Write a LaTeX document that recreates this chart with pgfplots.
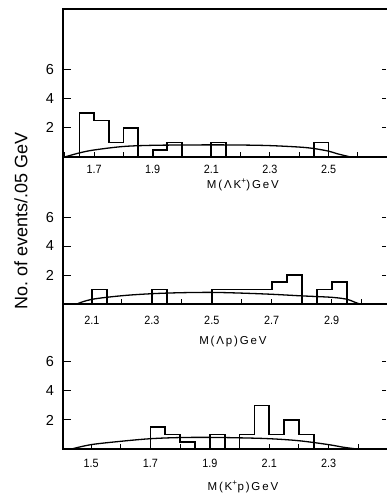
\documentclass[border=0pt]{standalone}
\usepackage{fontspec}
\setmainfont{Liberation Sans}
\newfontfamily\tickfont[FakeStretch=0.9]{Liberation Sans}
\newfontfamily\labfont[LetterSpace=16]{Liberation Sans}
\usepackage{pgfplots}
\pgfplotsset{compat=1.18}

% shared look of the three mass-spectrum panels
\pgfplotsset{
  panel/.style={
    scale only axis, width=323pt,
    ymin=0, clip=false,
    axis line style={draw=none},
    tick align=inside,
    xtick pos=bottom, ytick pos=left,
    major tick length=8pt, minor tick length=5pt,
    every tick/.style={black, line width=1pt},
    every major x tick/.append style={draw=none},
    ytick={2,4,6}, yticklabels={2,4,6},
    yticklabel style={font=\fontsize{14.5}{14.5}\selectfont, anchor=center, xshift=-13pt},
    xticklabel style={font=\tickfont\fontsize{12}{12}\selectfont, anchor=center},
    xlabel style={font=\labfont\fontsize{11.5}{11.5}\selectfont, anchor=center},
  },
  hist/.style={const plot, black, line width=1.7pt, line join=miter, mark=none},
  fit/.style={smooth, black, line width=1.3pt, tension=0.55, mark=none},
}
\tikzset{frame/.style={line width=1.1pt, line cap=rect}}

% left axis line, baseline and the short ticks at the right edge
\newcommand{\panelframe}{%
  \draw[frame] (rel axis cs:0,1) -- (rel axis cs:0,0) -- (rel axis cs:1,0);
  \pgfplotsinvokeforeach{2,4,6}{%
    \draw[line width=1pt] (axis cs:\pgfkeysvalueof{/pgfplots/xmax},##1) -- ++(-4pt,0pt);
  }%
}

\begin{document}
\begin{tikzpicture}
\useasboundingbox (0pt,0pt) rectangle (386pt,495pt);

% ---------- M(Lambda K+) ----------
\begin{axis}[panel,
  at={(63pt,338pt)}, anchor=south west, height=148pt,
  xmin=1.594, xmax=2.696, ymax=10.137,
  xtick={1.7,1.9,2.1,2.3,2.5}, xticklabels={1.7,1.9,2.1,2.3,2.5},
  minor xtick={1.6,1.7,1.8,1.9,2.0,2.1,2.2,2.3,2.4,2.5,2.6},
  xticklabel style={yshift=-12pt},
  xlabel={M(ΛK\textsuperscript{+})GeV},
  xlabel style={at={(rel axis cs:0.557,0)}, yshift=-28pt},
]
\panelframe
\draw[frame] (rel axis cs:0,1) -- (rel axis cs:1,1);
\addplot[hist] coordinates {(1.65,0) (1.65,3) (1.70,2.5) (1.75,1) (1.80,2) (1.85,0)};
\addplot[hist] coordinates {(1.90,0) (1.90,0.5) (1.95,1) (2.00,0)};
\addplot[hist] coordinates {(2.10,0) (2.10,1) (2.15,0)};
\addplot[hist] coordinates {(2.45,0) (2.45,1) (2.50,0)};
\addplot[fit] coordinates {
  (1.60,0) (1.65,0.28) (1.70,0.48) (1.80,0.72) (1.90,0.80) (2.00,0.82)
  (2.10,0.83) (2.20,0.82) (2.30,0.78) (2.40,0.68) (2.45,0.58)
  (2.50,0.40) (2.53,0.22) (2.575,0)
};
\end{axis}

% ---------- M(Lambda p) ----------
\begin{axis}[panel,
  at={(63pt,191pt)}, anchor=south west, height=147pt,
  xmin=2.004, xmax=3.081, ymax=10.14,
  xtick={2.1,2.3,2.5,2.7,2.9}, xticklabels={2.1,2.3,2.5,2.7,2.9},
  minor xtick={2.1,2.2,2.3,2.4,2.5,2.6,2.7,2.8,2.9,3.0},
  xticklabel style={yshift=-16pt},
  xlabel={M(Λp)GeV},
  xlabel style={at={(rel axis cs:0.526,0)}, yshift=-38pt},
]
\panelframe
\addplot[hist] coordinates {(2.10,0) (2.10,1) (2.15,0)};
\addplot[hist] coordinates {(2.30,0) (2.30,1) (2.35,0)};
\addplot[hist] coordinates {(2.50,0) (2.50,1) (2.70,1.5) (2.75,2) (2.80,0)};
\addplot[hist] coordinates {(2.85,0) (2.85,1) (2.90,1.5) (2.95,0)};
\addplot[fit] coordinates {
  (2.05,0) (2.10,0.32) (2.20,0.57) (2.30,0.71) (2.40,0.78) (2.50,0.80)
  (2.60,0.75) (2.70,0.67) (2.80,0.56) (2.90,0.46) (2.95,0.33)
  (2.975,0.14) (2.993,0)
};
\end{axis}

% ---------- M(K+ p) ----------
\begin{axis}[panel,
  at={(63pt,46pt)}, anchor=south west, height=145pt,
  xmin=1.4057, xmax=2.493, ymax=10,
  xtick={1.5,1.7,1.9,2.1,2.3}, xticklabels={1.5,1.7,1.9,2.1,2.3},
  minor xtick={1.5,1.6,1.7,1.8,1.9,2.0,2.1,2.2,2.3,2.4},
  xticklabel style={yshift=-14pt},
  xlabel={M(K\textsuperscript{+}p)GeV},
  xlabel style={at={(rel axis cs:0.557,0)}, yshift=-38pt},
]
\panelframe
\addplot[hist] coordinates {(1.70,0) (1.70,1.5) (1.75,1) (1.80,0.5) (1.85,0)};
\addplot[hist] coordinates {(1.90,0) (1.90,1) (1.95,0)};
\addplot[hist] coordinates {(2.00,0) (2.00,1) (2.05,3) (2.10,1) (2.15,2) (2.20,1) (2.25,0)};
\addplot[fit] coordinates {
  (1.435,0) (1.50,0.30) (1.60,0.53) (1.70,0.71) (1.80,0.79) (1.90,0.80)
  (2.00,0.77) (2.10,0.71) (2.20,0.57) (2.30,0.30) (2.35,0.12) (2.395,0)
};
\end{axis}

\node[rotate=90, font=\fontsize{18}{18}\selectfont] at (21pt,274pt) {No.\ of events/.05 GeV};
\end{tikzpicture}
\end{document}
